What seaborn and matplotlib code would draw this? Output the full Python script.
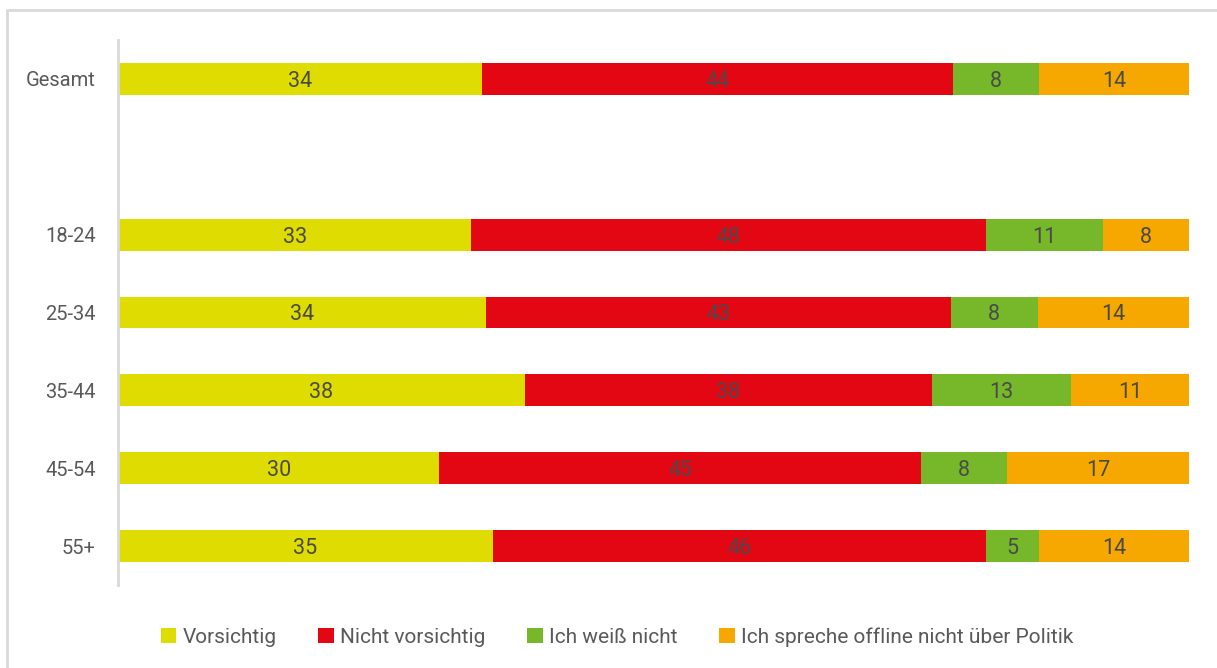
import matplotlib
matplotlib.use("Agg")
import matplotlib.pyplot as plt
import seaborn as sns
import pandas as pd
import numpy as np
from matplotlib.lines import Line2D
from matplotlib.patches import Patch

categories = ["Gesamt", "18-24", "25-34", "35-44", "45-54", "55+"]
series_names = ["Vorsichtig", "Nicht vorsichtig", "Ich weiß nicht",
                "Ich spreche offline nicht über Politik"]
vorsichtig = [34, 33, 34, 38, 30, 35]
nicht_vorsichtig = [44, 48, 43, 38, 45, 46]
weiss_nicht = [8, 11, 8, 13, 8, 5]
offline = [14, 8, 14, 11, 17, 14]
colors = ["#DEDC00", "#E30613", "#76B82A", "#F6A800"]

order = ["Gesamt", " ", "18-24", "25-34", "35-44", "45-54", "55+"]

sns.set_theme(style="white")
plt.rcParams["font.family"] = ["Roboto", "DejaVu Sans"]

vals = np.array([vorsichtig, nicht_vorsichtig, weiss_nicht, offline], dtype=float)
norm = vals / vals.sum(axis=0) * 100
cum = np.cumsum(norm, axis=0)

fig = plt.figure(figsize=(12.17, 6.68), dpi=100)
ax = fig.add_axes([118/1217, 1-585/668, (1189-118)/1217, (585-40)/668])

for i in range(3, -1, -1):
    df = pd.DataFrame({"cat": categories, "v": cum[i]})
    sns.barplot(data=df, x="v", y="cat", order=order, color=colors[i],
                orient="h", width=0.41, ax=ax, saturation=1, edgecolor="none")

pos = {c: order.index(c) for c in categories}
for i in range(4):
    for j, c in enumerate(categories):
        left = cum[i, j] - norm[i, j]
        ax.text(left + norm[i, j]/2, pos[c], str(int(vals[i, j])), ha="center",
                va="center_baseline", fontsize=15.5, color="#4a4a4a")

ax.set_xlim(0, 100)
ax.set_ylim(6.5, -0.5)
ax.set_xlabel("")
ax.set_ylabel("")
ax.set_xticks([])
ax.tick_params(axis="y", length=0, pad=16, labelsize=14.5, labelcolor="#595959")
for s in ["top", "right", "bottom"]:
    ax.spines[s].set_visible(False)
ax.spines["left"].set_color("#d9d9d9")
ax.spines["left"].set_linewidth(2)

handles = [Patch(facecolor=colors[i], edgecolor="none", label=series_names[i]) for i in range(4)]
leg = fig.legend(handles=handles, loc="center", bbox_to_anchor=(617/1217, 1-637/668),
                 ncol=4, frameon=False, fontsize=15, handlelength=0.75, handleheight=0.75,
                 handletextpad=0.3, columnspacing=2.0, labelcolor="#595959")

fig.add_artist(Line2D([7/1217, 1], [1-10/668, 1-10/668], transform=fig.transFigure,
                      color="#d9d9d9", lw=2))
fig.add_artist(Line2D([7/1217, 7/1217], [0, 1-10/668], transform=fig.transFigure,
                      color="#d9d9d9", lw=2))

fig.savefig("out.png", dpi=100, facecolor="white")
